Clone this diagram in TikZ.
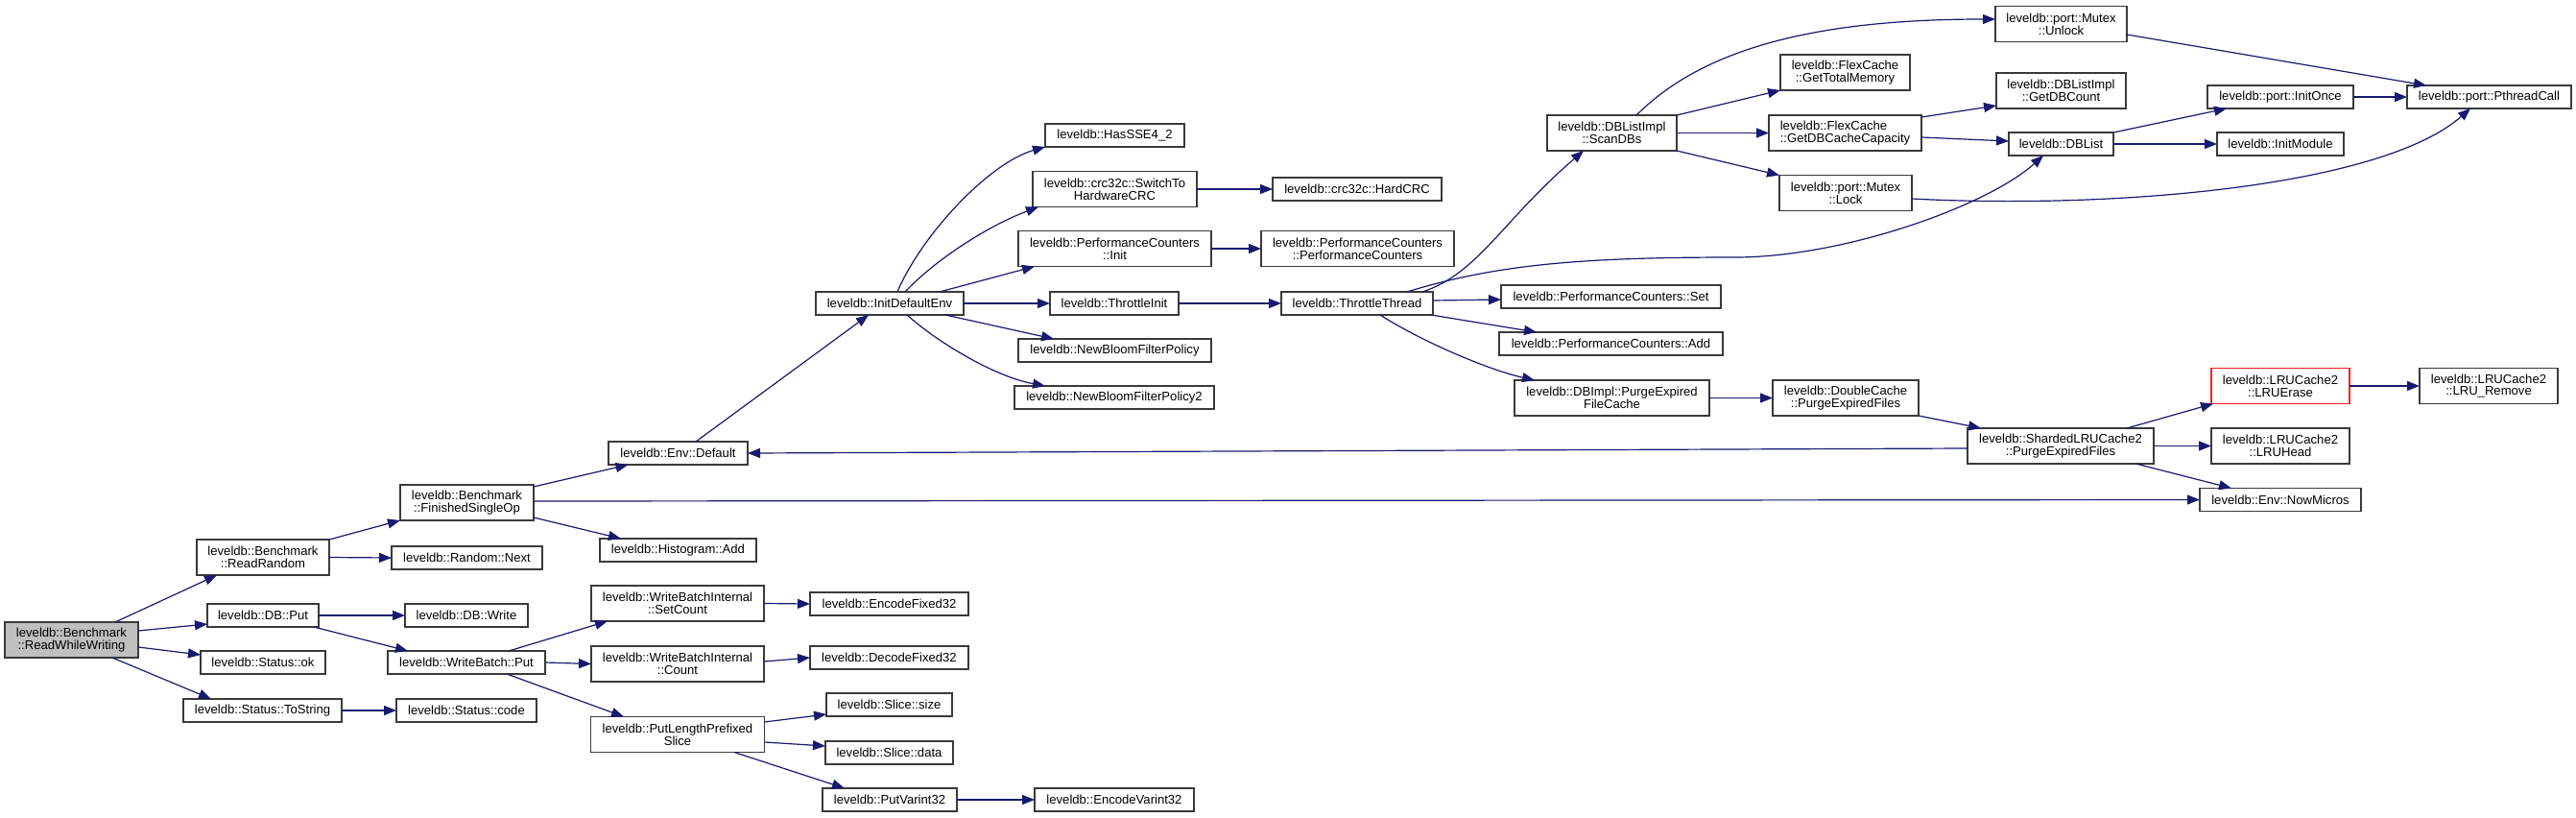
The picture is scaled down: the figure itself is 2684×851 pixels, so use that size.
\documentclass[tikz,border=0pt]{standalone}
\usepackage{fontspec}
\newfontfamily\lsans{Liberation Sans}
\usetikzlibrary{arrows.meta}
\definecolor{edgec}{HTML}{191970}
\definecolor{boxc}{HTML}{3A3A3A}
\definecolor{redc}{HTML}{FF2020}
\definecolor{grayfill}{HTML}{BFBFBF}
\begin{document}
\begin{tikzpicture}[x=1pt,y=-1pt,
  nbox/.style={draw=boxc,line width=1.4pt,fill=white,inner sep=0pt,outer sep=0pt,align=center,
    font={\lsans\fontsize{13.1}{12.7}\selectfont}},
  hone/.style={minimum height=24pt},
  htwo/.style={minimum height=37pt},
  cl/.style={draw=edgec,line width=1.2pt,-{Triangle[length=13pt,width=10pt]},fill=none}]
\fill[white] (0,0) rectangle (2684,851);
\useasboundingbox (0,0) rectangle (2684,851);
% column 0-2
\node[nbox,htwo,fill=grayfill,minimum width=139pt] (rww) at (74.5,666.5) {leveldb::Benchmark\\::ReadWhileWriting};
\node[nbox,htwo,minimum width=138pt] (rr) at (274,580.5) {leveldb::Benchmark\\::ReadRandom};
\node[nbox,hone,minimum width=116pt] (dbput) at (274,641) {leveldb::DB::Put};
\node[nbox,hone,minimum width=130pt] (sok) at (274,690) {leveldb::Status::ok};
\node[nbox,hone,minimum width=165pt] (tostr) at (273.5,740) {leveldb::Status::ToString};
\node[nbox,htwo,minimum width=139pt] (fso) at (486.5,523.5) {leveldb::Benchmark\\::FinishedSingleOp};
\node[nbox,hone,minimum width=157pt] (rnext) at (486.5,581) {leveldb::Random::Next};
\node[nbox,hone,minimum width=128pt] (dbwrite) at (486,641) {leveldb::DB::Write};
\node[nbox,hone,minimum width=164pt] (wbput) at (486,690) {leveldb::WriteBatch::Put};
\node[nbox,hone,minimum width=146pt] (scode) at (486,740) {leveldb::Status::code};
% column 3-4
\node[nbox,hone,minimum width=145pt] (envdef) at (706.5,472) {leveldb::Env::Default};
\node[nbox,hone,minimum width=163pt] (hadd) at (706.5,573) {leveldb::Histogram::Add};
\node[nbox,htwo,minimum width=180pt] (setcnt) at (706,628.5) {leveldb::WriteBatchInternal\\::SetCount};
\node[nbox,htwo,minimum width=180pt] (cnt) at (706,691.5) {leveldb::WriteBatchInternal\\::Count};
\node[nbox,htwo,minimum width=181pt] (plps) at (706,765) {leveldb::PutLengthPrefixed\\Slice};
\node[nbox,hone,minimum width=165pt] (encf) at (926.5,629) {leveldb::EncodeFixed32};
\node[nbox,hone,minimum width=165pt] (decf) at (926.5,685) {leveldb::DecodeFixed32};
\node[nbox,hone,minimum width=131pt] (ssize) at (926.5,734) {leveldb::Slice::size};
\node[nbox,hone,minimum width=133pt] (sdata) at (926.5,784) {leveldb::Slice::data};
\node[nbox,hone,minimum width=140pt] (pv32) at (927,833) {leveldb::PutVarint32};
\node[nbox,hone,minimum width=154pt] (ide) at (927,316) {leveldb::InitDefaultEnv};
% column 5
\node[nbox,hone,minimum width=166pt] (ev32) at (1161,833) {leveldb::EncodeVarint32};
\node[nbox,hone,minimum width=145pt] (sse) at (1161.5,141) {leveldb::HasSSE4\_2};
\node[nbox,htwo,minimum width=171pt] (swhw) at (1161.5,197) {leveldb::crc32c::SwitchTo\\HardwareCRC};
\node[nbox,htwo,minimum width=201pt] (pcinit) at (1161.5,259) {leveldb::PerformanceCounters\\::Init};
\node[nbox,hone,minimum width=134pt] (thinit) at (1161,316) {leveldb::ThrottleInit};
\node[nbox,hone,minimum width=201pt] (nbfp) at (1161.5,365) {leveldb::NewBloomFilterPolicy};
\node[nbox,hone,minimum width=208pt] (nbfp2) at (1161,414) {leveldb::NewBloomFilterPolicy2};
% column 6
\node[nbox,hone,minimum width=176pt] (hcrc) at (1414,197) {leveldb::crc32c::HardCRC};
\node[nbox,htwo,minimum width=201pt] (pcpc) at (1414.5,259) {leveldb::PerformanceCounters\\::PerformanceCounters};
\node[nbox,hone,minimum width=158pt] (tthr) at (1414,316) {leveldb::ThrottleThread};
% column 7
\node[nbox,htwo,minimum width=135pt] (scan) at (1679.5,138.5) {leveldb::DBListImpl\\::ScanDBs};
\node[nbox,hone,minimum width=229pt] (pcset) at (1678.5,309) {leveldb::PerformanceCounters::Set};
\node[nbox,hone,minimum width=233pt] (pcadd) at (1678.5,358) {leveldb::PerformanceCounters::Add};
\node[nbox,htwo,minimum width=203pt] (pefc) at (1679.5,414.5) {leveldb::DBImpl::PurgeExpired\\FileCache};
% column 8
\node[nbox,htwo,minimum width=135pt] (gtm) at (1922.5,75.5) {leveldb::FlexCache\\::GetTotalMemory};
\node[nbox,htwo,minimum width=159pt,align=left] (gdbcc) at (1922.5,138.5) {leveldb::FlexCache\\::GetDBCacheCapacity};
\node[nbox,htwo,minimum width=138pt] (lock) at (1923,201) {leveldb::port::Mutex\\::Lock};
\node[nbox,htwo,minimum width=152pt] (dcache) at (1923,414.5) {leveldb::DoubleCache\\::PurgeExpiredFiles};
% column 9
\node[nbox,htwo,minimum width=137pt] (unlock) at (2147.5,25) {leveldb::port::Mutex\\::Unlock};
\node[nbox,htwo,minimum width=135pt] (gdbcnt) at (2147.5,94.5) {leveldb::DBListImpl\\::GetDBCount};
\node[nbox,hone,minimum width=109pt] (dblist) at (2147.5,150) {leveldb::DBList};
\node[nbox,htwo,minimum width=194pt] (shard) at (2147,464.5) {leveldb::ShardedLRUCache2\\::PurgeExpiredFiles};
% column 10
\node[nbox,hone,minimum width=152pt] (initonce) at (2376,101) {leveldb::port::InitOnce};
\node[nbox,hone,minimum width=132pt] (initmod) at (2376,150) {leveldb::InitModule};
\node[nbox,htwo,minimum width=144pt,draw=redc] (lruerase) at (2376,402) {leveldb::LRUCache2\\::LRUErase};
\node[nbox,htwo,minimum width=144pt] (lruhead) at (2376,464.5) {leveldb::LRUCache2\\::LRUHead};
\node[nbox,hone,minimum width=168pt] (nowmic) at (2376,520.5) {leveldb::Env::NowMicros};
% column 11
\node[nbox,hone,minimum width=171pt] (pthr) at (2593.5,101) {leveldb::port::PthreadCall};
\node[nbox,htwo,minimum width=144pt] (lrurem) at (2593,402) {leveldb::LRUCache2\\::LRU\_Remove};

% edges
\draw[cl] ([xshift=45.5pt]rww.north) -- ([xshift=-48pt]rr.south);
\draw[cl] ([yshift=9.5pt]rww.east) -- ([yshift=-9pt]dbput.west);
\draw[cl] ([yshift=-7.5pt]rww.east) -- ([yshift=8pt]sok.west);
\draw[cl] ([xshift=42.5pt]rww.south) -- ([xshift=-53.5pt]tostr.north);
\draw[cl] (rr.north east) -- (fso.south west);
\draw[cl] (rr.east) -- (rnext.west);
\draw[cl] (dbput.east) -- (dbwrite.west);
\draw[cl] ([xshift=53pt]dbput.south) -- ([xshift=-61pt]wbput.north);
\draw[cl] (tostr.east) -- (scode.west);
\draw[cl] ([yshift=16.5pt]fso.east) -- ([xshift=-52pt]envdef.south);
\draw[cl] ([yshift=1.5pt]fso.east) -- (nowmic.west);
\draw[cl] ([yshift=-15.5pt]fso.east) -- ([xshift=-59.5pt]hadd.north);
\draw[cl] ([xshift=44pt]wbput.north) -- ([xshift=-73pt]setcnt.south);
\draw[cl] (wbput.east) -- (cnt.west);
\draw[cl] ([xshift=42pt]wbput.south) -- ([xshift=-56pt]plps.north);
\draw[cl] (setcnt.east) -- (encf.west);
\draw[cl] ([yshift=2.5pt]cnt.east) -- (decf.west);
\draw[cl] ([yshift=13pt]plps.east) -- ([yshift=-10pt]ssize.west);
\draw[cl] ([yshift=-8pt]plps.east) -- ([yshift=7pt]sdata.west);
\draw[cl] ([xshift=59pt]plps.south) -- ([xshift=-47pt]pv32.north);
\draw[cl] (pv32.east) -- (ev32.west);
\draw[cl] ([xshift=18.5pt]envdef.north) -- ([xshift=-22pt]ide.south);
\draw[cl] ([xshift=8pt]ide.north) .. controls (960,245) and (1030,170) .. (sse.south west);
\draw[cl] ([xshift=16pt]ide.north) .. controls (975,270) and (1030,235) .. ([xshift=-79.5pt]swhw.south);
\draw[cl] ([xshift=52pt]ide.north) -- ([xshift=-83.5pt]pcinit.south);
\draw[cl] (ide.east) -- (thinit.west);
\draw[cl] ([xshift=58pt]ide.south) -- ([xshift=-63.5pt]nbfp.north);
\draw[cl] ([xshift=18pt]ide.south) .. controls (975,355) and (1035,392) .. ([xshift=-72pt]nbfp2.north);
\draw[cl] (swhw.east) -- (hcrc.west);
\draw[cl] (pcinit.east) -- (pcpc.west);
\draw[cl] (thinit.east) -- (tthr.west);
\draw[cl] ([xshift=68pt]tthr.north) .. controls (1540,285) and (1565,230) .. ([xshift=-29.5pt]scan.south);
\draw[cl] ([xshift=52pt]tthr.north) .. controls (1560,275) and (1650,268) .. (1808,268) .. controls (1920,268) and (2070,215) .. ([xshift=-18.5pt]dblist.south);
\draw[cl] ([yshift=3pt]tthr.east) -- ([yshift=-3pt]pcset.west);
\draw[cl] ([xshift=77pt]tthr.south) -- ([xshift=-77.5pt]pcadd.north);
\draw[cl] ([xshift=24pt]tthr.south) .. controls (1480,355) and (1550,385) .. ([xshift=-80.5pt]pefc.north);
\draw[cl] ([xshift=25.5pt]scan.north) .. controls (1770,55) and (1880,20) .. ([yshift=5pt]unlock.west);
\draw[cl] (scan.north east) -- (gtm.south west);
\draw[cl] (scan.east) -- (gdbcc.west);
\draw[cl] (scan.south east) -- (lock.north west);
\draw[cl] ([yshift=16.5pt]gdbcc.east) -- ([yshift=-15.5pt]gdbcnt.west);
\draw[cl] ([yshift=-4.5pt]gdbcc.east) -- ([yshift=3pt]dblist.west);
\draw[cl] ([yshift=-11pt]unlock.east) -- ([xshift=-65.5pt]pthr.north);
\draw[cl] ([yshift=-6pt]lock.east) .. controls (2200,218) and (2480,195) .. ([xshift=-19.5pt]pthr.south);
\draw[cl] (dblist.north east) -- ([xshift=-56pt]initonce.south);
\draw[cl] (dblist.east) -- (initmod.west);
\draw[cl] (initonce.east) -- (pthr.west);
\draw[cl] (pefc.east) -- (dcache.west);
\draw[cl] (dcache.south east) -- ([xshift=-83pt]shard.north);
\draw[cl] ([yshift=-2.5pt]shard.west) -- (envdef.east);
\draw[cl] ([xshift=69pt]shard.north) -- ([xshift=-70pt]lruerase.south);
\draw[cl] (shard.east) -- (lruhead.west);
\draw[cl] ([xshift=78.5pt]shard.south) -- ([xshift=-51pt]nowmic.north);
\draw[cl] (lruerase.east) -- (lrurem.west);
\end{tikzpicture}
\end{document}
